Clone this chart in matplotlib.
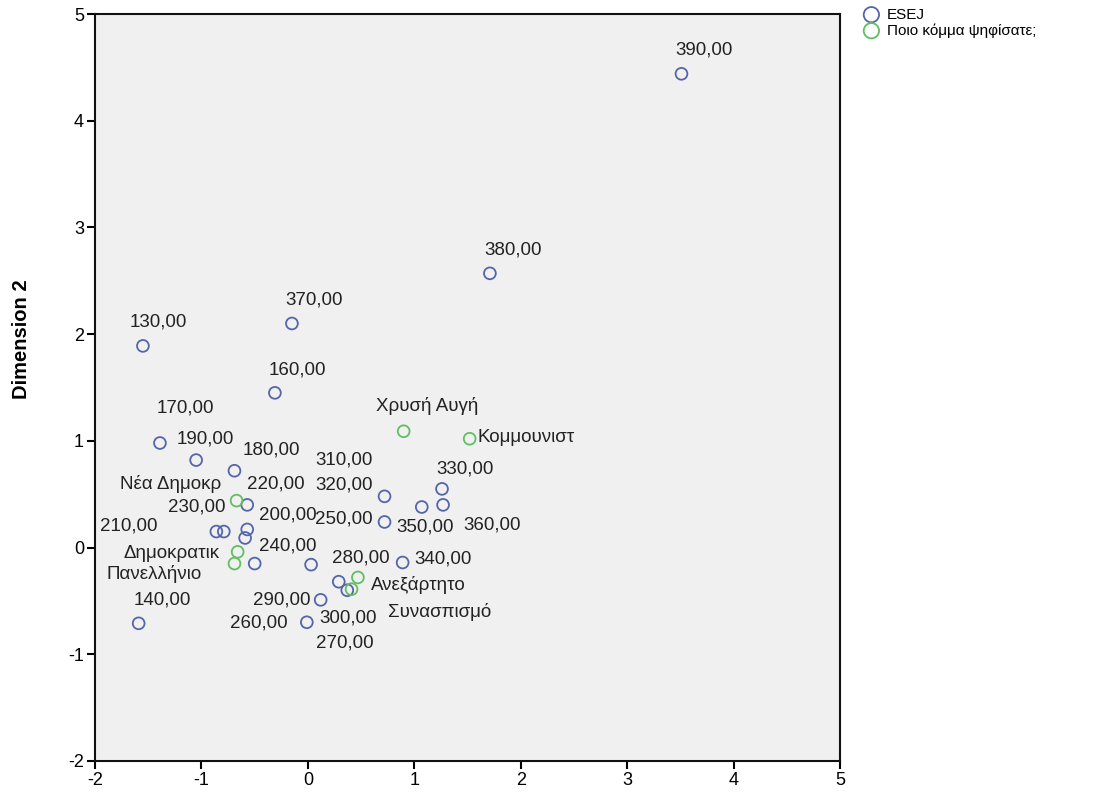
import matplotlib
matplotlib.use("Agg")
import matplotlib.pyplot as plt

plt.rcParams['font.family'] = ['Liberation Sans', 'DejaVu Sans']
plt.rcParams['axes.unicode_minus'] = False

# ESEJ category points (dimension 1, dimension 2)
esej_labels = ["130,00", "140,00", "160,00", "170,00", "180,00", "190,00", "200,00",
               "210,00", "220,00", "230,00", "240,00", "250,00", "260,00", "270,00",
               "280,00", "290,00", "300,00", "310,00", "320,00", "330,00", "340,00",
               "350,00", "360,00", "370,00", "380,00", "390,00"]
esej_x = [-1.55, -1.59, -0.31, -1.39, -0.69, -1.05, -0.57, -0.86, -0.57, -0.79, -0.59,
          0.03, -0.50, 0.37, 0.29, 0.12, -0.01, 0.72, 0.72, 1.26, 0.89, 1.07, 1.27,
          -0.15, 1.71, 3.51]
esej_y = [1.89, -0.71, 1.45, 0.98, 0.72, 0.82, 0.17, 0.15, 0.40, 0.15, 0.09, -0.16,
          -0.15, -0.40, -0.32, -0.49, -0.70, 0.48, 0.24, 0.55, -0.14, 0.38, 0.40,
          2.10, 2.57, 4.44]
# label offsets in pixels (dx, dy)
esej_off = [(15, 24), (24, 23), (22, 23), (25, 35), (37, 21), (9, 21), (41, 14),
            (-88, 6), (29, 21), (-27, 25), (43, -8), (33, 46), (4, -59), (-2, -53),
            (22, 24), (-39, 0), (41, 4), (-40, 36), (-40, 37), (23, 20), (40, 4),
            (3, -20), (49, -20), (22, 23), (23, 23), (23, 24)]

# party category points
party_labels = ["Χρυσή Αυγή", "Κομμουνιστ", "Νέα Δημοκρ", "Δημοκρατικ",
                "Πανελλήνιο", "Ανεξάρτητο", "Συνασπισμό"]
party_x = [0.90, 1.52, -0.67, -0.66, -0.69, 0.47, 0.41]
party_y = [1.09, 1.02, 0.44, -0.04, -0.15, -0.28, -0.39]
party_off = [(24, 25), (56, 1), (-66, 17), (-66, -2), (-80, -10), (60, -8), (88, -23)]

blue = '#5565AA'
green = '#62BE62'

fig = plt.figure(figsize=(11.14, 7.98), dpi=100)
ax = fig.add_axes([0.0853, 0.0464, 0.6688, 0.936])
ax.set_facecolor('#F0F0F0')

ax.scatter(esej_x, esej_y, s=72, facecolors='none', edgecolors=blue, linewidths=1.3,
           label="ESEJ", zorder=3)
ax.scatter(party_x, party_y, s=72, facecolors='none', edgecolors=green, linewidths=1.3,
           label="Ποιο κόμμα ψηφίσατε;", zorder=4)

for lab, x, y, off in zip(esej_labels, esej_x, esej_y, esej_off):
    ax.annotate(lab, (x, y), xytext=off, textcoords='offset pixels',
                ha='center', va='center', fontsize=13.5, color='#222222')
for lab, x, y, off in zip(party_labels, party_x, party_y, party_off):
    ax.annotate(lab, (x, y), xytext=off, textcoords='offset pixels',
                ha='center', va='center', fontsize=13.5, color='#222222')

ax.set_xlim(-2, 5)
ax.set_ylim(-2, 5)
ax.set_xticks(range(-2, 6))
ax.set_yticks(range(-2, 6))
ax.tick_params(direction='out', length=6, width=1.5, labelsize=13, pad=2)
for sp in ax.spines.values():
    sp.set_linewidth(1.5)
    sp.set_color('#111111')

ax.set_ylabel("Dimension 2", fontsize=14.5, fontweight='bold')
ax.yaxis.set_label_coords(-0.086, 0.565)

fig.legend(loc='upper left', bbox_to_anchor=(0.763, 0.998), frameon=False,
           fontsize=11, handletextpad=0.0, labelspacing=0.1, borderaxespad=0,
           markerscale=1.3)

fig.savefig("out.png", dpi=100)
